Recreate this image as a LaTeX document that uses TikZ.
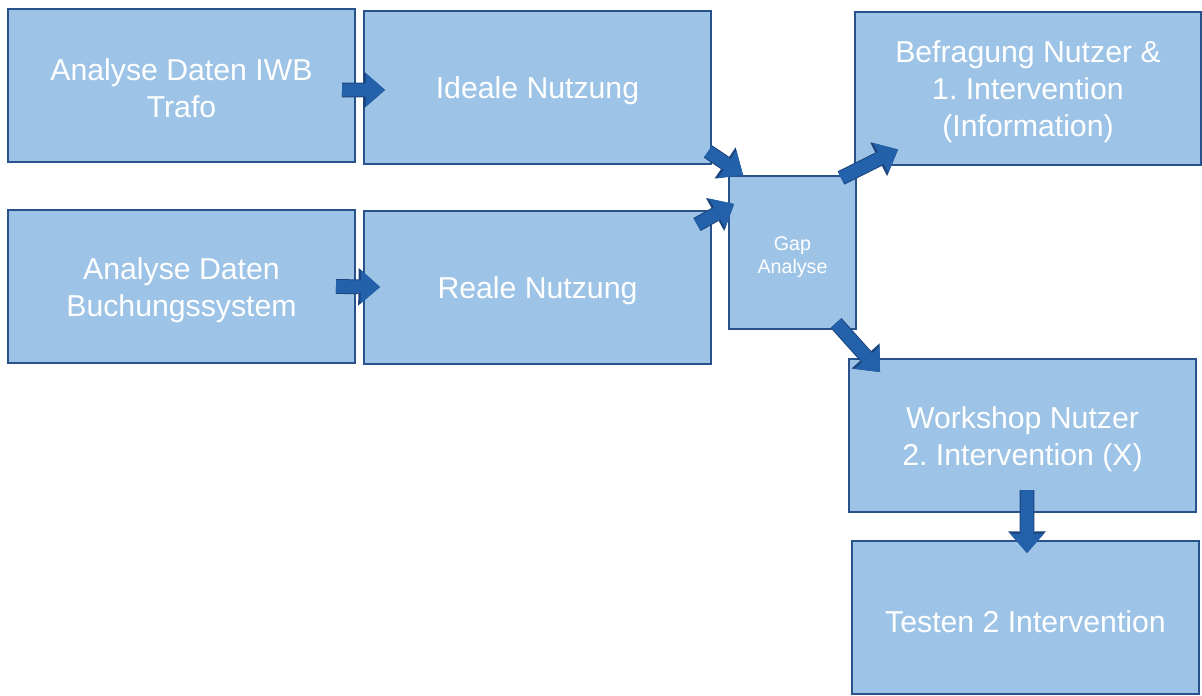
\documentclass[tikz,border=0pt]{standalone}
\usepackage{fontspec}
\setmainfont{Liberation Sans}
\usetikzlibrary{arrows.meta, positioning}
\definecolor{boxfill}{RGB}{157,195,230}
\definecolor{boxline}{RGB}{40,82,140}
\definecolor{arrfill}{RGB}{35,98,170}
\definecolor{arrline}{RGB}{28,68,125}
% pushes the first line a little lower in the box
\newcommand{\upstrut}[1][21.4pt]{\rule{0pt}{#1}}
\frenchspacing

\begin{document}
\begin{tikzpicture}[
    stepbox/.style={draw=boxline, line width=0.05cm, fill=boxfill, text=white, outer sep=0pt, inner sep=2pt,
      minimum width=8.675cm, minimum height=3.825cm, align=center, font=\fontsize{21.5}{26.3}\selectfont},
    gapbox/.style={stepbox, minimum width=3.175cm, font=\fontsize{14}{16.4}\selectfont},
    blockarr/.style={arrfill, line width=0.32cm, -{Triangle[length=0.48cm, width=0.84cm, line width=0pt]},
      preaction={draw=arrline, line width=0.37cm, -{Triangle[length=0.54cm, width=0.94cm, line width=0pt]}}}
  ]
    \useasboundingbox (0,0) rectangle (30.05,-17.375);

    \node[stepbox] (iwb) at (4.5375,-2.1375) {\upstrut[19pt]Analyse Daten IWB\\Trafo};
    \node[stepbox, right=0.225cm of iwb, yshift=-0.0375cm] (ideal) {\upstrut Ideale Nutzung};
    \node[stepbox, below=1.2cm of iwb] (buchung) {\upstrut Analyse Daten\\Buchungssystem};
    \node[stepbox, right=0.225cm of buchung, yshift=-0.0125cm] (real) {\upstrut Reale Nutzung};
    \node[gapbox] (gap) at (19.8125,-6.3125) {\upstrut[16pt]Gap\\Analyse};
    \node[stepbox, minimum width=8.65cm] (befragung) at (25.7,-2.2) {\upstrut Befragung Nutzer \&\\1. Intervention\\(Information)};
    \node[stepbox] (workshop) at (25.5625,-10.8875) {\upstrut Workshop Nutzer\\2. Intervention (X)};
    \node[stepbox, below=0.725cm of workshop, xshift=0.075cm] (testen) {\upstrut Testen 2 Intervention};

    \draw[blockarr] ([shift={(-0.325,-0.11)}]iwb.east) -- ([shift={(0.525,-0.075)}]ideal.west);
    \draw[blockarr] ([shift={(-0.475,0)}]buchung.east) -- ([shift={(0.4,0)}]real.west);
    \draw[blockarr] ([shift={(-0.075,0.3)}]ideal.south east) -- ([shift={(0.35,0.025)}]gap.north west);
    \draw[blockarr] ([shift={(-0.35,-0.35)}]real.north east) -- ([shift={(0.125,-0.7)}]gap.north west);
    \draw[blockarr] ([shift={(-0.375,-0.05)}]gap.north east) -- ([shift={(1.075,0.375)}]befragung.south west);
    \draw[blockarr] ([shift={(-0.5,0.15)}]gap.south east) -- ([shift={(0.775,-0.325)}]workshop.north west);
    \draw[blockarr] ([shift={(0.1125,0.55)}]workshop.south) -- ([shift={(0.0375,-0.3)}]testen.north);
  \end{tikzpicture}
\end{document}
